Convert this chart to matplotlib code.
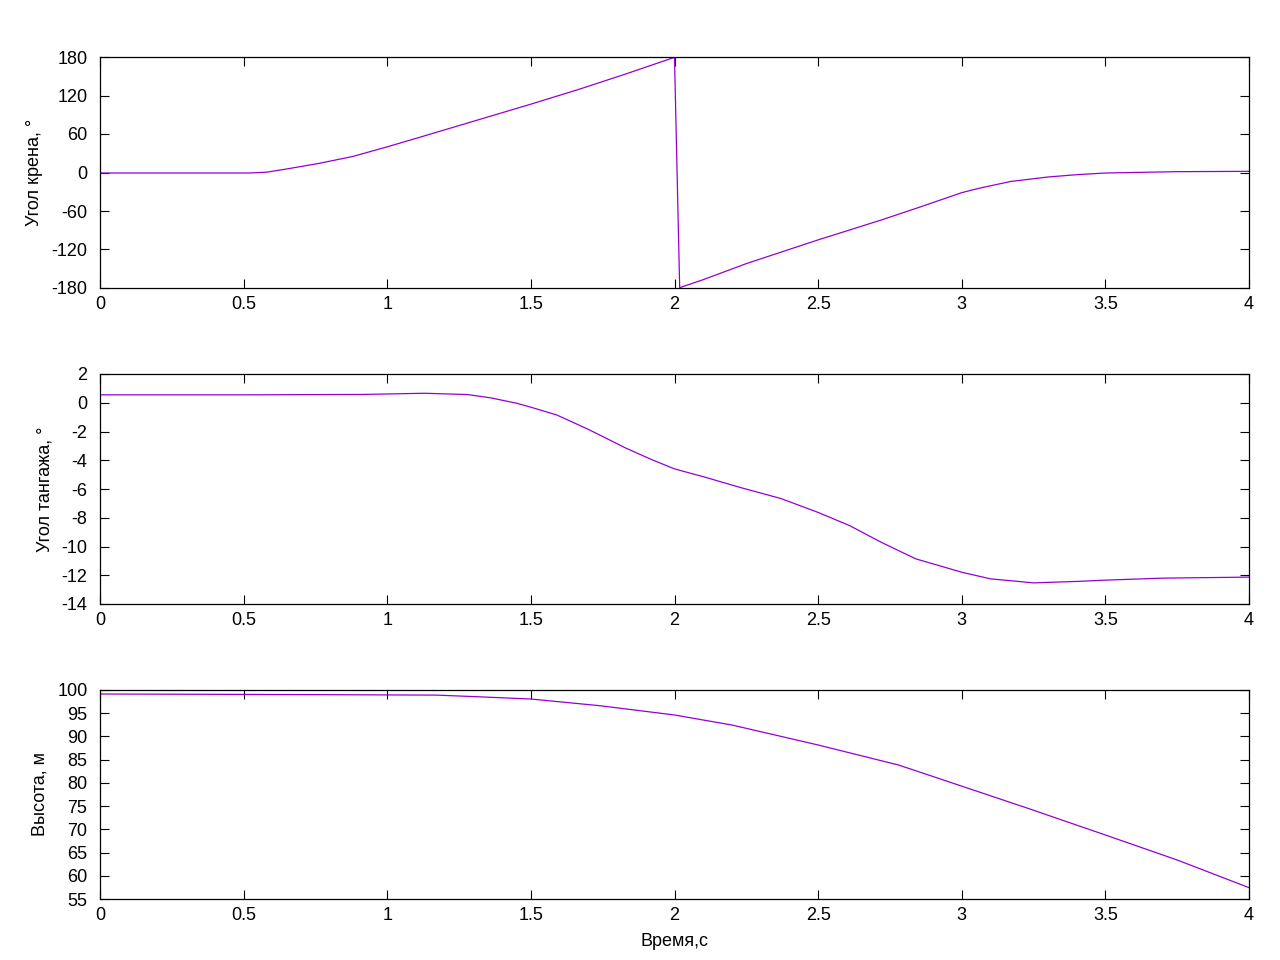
import numpy as np
import matplotlib
matplotlib.use('Agg')
import matplotlib.pyplot as plt
from matplotlib.ticker import FormatStrFormatter

plt.rcParams['font.family'] = ['Liberation Sans', 'DejaVu Sans']
plt.rcParams['font.size'] = 13
plt.rcParams['axes.unicode_minus'] = False

# roll angle, deg (wraps at +-180)
t_roll = [0.0, 0.3, 0.52, 0.58, 0.65, 0.76, 0.88, 1.0, 1.11, 1.23, 1.35, 1.5, 1.67, 1.83,
          2.0, 2.018, 2.1, 2.25, 2.5, 2.72, 2.86, 3.0, 3.06, 3.17, 3.3, 3.4, 3.5, 3.75, 4.0]
roll = [-0.8, -0.8, -0.8, 0.5, 5.5, 14.0, 25.0, 40.0, 54.5, 70.5, 86.5, 106.5, 130.0, 153.5,
        179.5, -179.5, -167.0, -142.0, -105.0, -74.0, -53.0, -31.4, -24.6, -14.0, -7.0,
        -3.4, -0.8, 1.3, 1.8]

# pitch angle, deg
t_pitch = [0.0, 0.5, 0.92, 1.13, 1.28, 1.36, 1.45, 1.5, 1.59, 1.7, 1.83, 1.92, 2.0,
           2.11, 2.23, 2.37, 2.5, 2.61, 2.72, 2.84, 3.0, 3.1, 3.25, 3.4, 3.5, 3.7, 4.0]
pitch = [0.55, 0.55, 0.58, 0.66, 0.57, 0.34, -0.03, -0.31, -0.85, -1.85, -3.15, -3.95, -4.6,
         -5.2, -5.9, -6.66, -7.63, -8.55, -9.71, -10.86, -11.79, -12.25, -12.53, -12.43,
         -12.34, -12.2, -12.13]

# altitude, m
t_alt = [0.0, 0.76, 1.17, 1.31, 1.5, 1.74, 2.0, 2.2, 2.5, 2.78, 3.0, 3.13, 3.23, 3.5,
         3.75, 4.0]
alt = [99.14, 99.0, 98.9, 98.56, 98.06, 96.62, 94.62, 92.46, 88.16, 83.85, 79.3, 76.6,
       74.53, 68.78, 63.4, 57.44]

color = '#9400d3'

fig = plt.figure(figsize=(12.8, 9.6), dpi=100)
left, width = 100 / 1280, 1149 / 1280
ax1 = fig.add_axes([left, 1 - 288 / 960, width, 231 / 960])
ax2 = fig.add_axes([left, 1 - 604 / 960, width, 230 / 960])
ax3 = fig.add_axes([left, 1 - 899 / 960, width, 209 / 960])

panels = [
    (ax1, t_roll, roll, (-180, 180), np.arange(-180, 181, 60), 'Угол крена, °'),
    (ax2, t_pitch, pitch, (-14, 2), np.arange(-14, 3, 2), 'Угол тангажа, °'),
    (ax3, t_alt, alt, (55, 100), np.arange(55, 101, 5), 'Высота, м'),
]

for ax, t, y, ylim, yticks, label in panels:
    ax.plot(t, y, color=color, linewidth=0.9)
    ax.set_xlim(0, 4)
    ax.set_ylim(*ylim)
    ax.set_xticks(np.arange(0, 4.01, 0.5))
    ax.set_yticks(yticks)
    ax.xaxis.set_major_formatter(FormatStrFormatter('%g'))
    ax.tick_params(direction='in', top=True, right=True, length=6.5, width=0.8)
    ax.tick_params(axis='y', pad=9)
    ax.tick_params(axis='x', pad=6)
    for s in ax.spines.values():
        s.set_linewidth(0.9)
    ax.set_ylabel(label, labelpad=6)

ax3.set_xlabel('Время,с', labelpad=6)

fig.savefig('out.png', dpi=100)
